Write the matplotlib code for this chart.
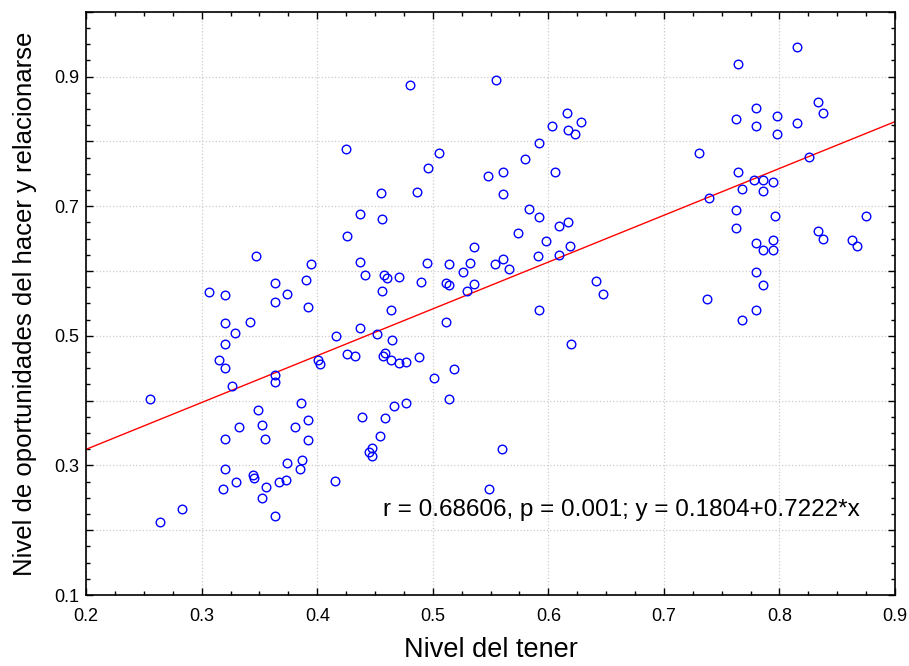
import numpy as np
import matplotlib
matplotlib.use("Agg")
import matplotlib.pyplot as plt
from matplotlib.ticker import MultipleLocator, FuncFormatter

plt.rcParams['font.family'] = ['Liberation Sans', 'DejaVu Sans']

#########################
# DATA
#########################
tener = [
    0.425, 0.437, 0.426, 0.347, 0.395, 0.437, 0.306, 0.320, 0.363, 0.374,
    0.390, 0.363, 0.392, 0.320, 0.342, 0.329, 0.320, 0.315, 0.320, 0.326,
    0.363, 0.363, 0.416, 0.401, 0.402, 0.426, 0.433, 0.437, 0.255, 0.349,
    0.386, 0.352, 0.392, 0.332, 0.381, 0.320, 0.355, 0.392, 0.439, 0.320,
    0.374, 0.387, 0.385, 0.344, 0.345, 0.330, 0.318, 0.356, 0.367, 0.373,
    0.415, 0.352, 0.283, 0.264, 0.363,
    0.480, 0.555, 0.505, 0.496, 0.455, 0.486, 0.456, 0.495, 0.514, 0.532,
    0.536, 0.526, 0.554, 0.561, 0.566, 0.441, 0.458, 0.460, 0.471, 0.490,
    0.511, 0.514, 0.536, 0.530, 0.456, 0.464, 0.548, 0.561, 0.561, 0.574,
    0.583, 0.592, 0.580, 0.592, 0.603, 0.616, 0.628, 0.617, 0.623, 0.606,
    0.598, 0.609, 0.617, 0.619, 0.591, 0.609, 0.641, 0.647, 0.592,
    0.511, 0.452, 0.465, 0.457, 0.459, 0.464, 0.471, 0.477, 0.488, 0.501,
    0.518, 0.620, 0.459, 0.466, 0.477, 0.514, 0.454, 0.447, 0.445, 0.447,
    0.560, 0.549,
    0.815, 0.764, 0.833, 0.838, 0.780, 0.762, 0.798, 0.815, 0.780, 0.798,
    0.730, 0.826, 0.764, 0.778, 0.786, 0.794, 0.768, 0.786, 0.739, 0.762,
    0.796, 0.875, 0.762, 0.833, 0.838, 0.863, 0.867, 0.780, 0.794, 0.786,
    0.794, 0.780, 0.786, 0.737, 0.768, 0.780,
]
hacer = [
    0.788, 0.688, 0.654, 0.623, 0.610, 0.614, 0.568, 0.563, 0.581, 0.565,
    0.586, 0.552, 0.545, 0.519, 0.521, 0.505, 0.487, 0.463, 0.451, 0.423,
    0.439, 0.428, 0.499, 0.462, 0.456, 0.472, 0.469, 0.512, 0.403, 0.386,
    0.396, 0.363, 0.370, 0.359, 0.359, 0.340, 0.341, 0.339, 0.375, 0.294,
    0.303, 0.309, 0.294, 0.285, 0.280, 0.274, 0.263, 0.266, 0.274, 0.278,
    0.276, 0.250, 0.233, 0.212, 0.222,
    0.887, 0.895, 0.782, 0.759, 0.721, 0.722, 0.680, 0.613, 0.611, 0.613,
    0.637, 0.599, 0.610, 0.618, 0.603, 0.593, 0.593, 0.589, 0.591, 0.583,
    0.582, 0.578, 0.580, 0.569, 0.569, 0.540, 0.747, 0.752, 0.718, 0.658,
    0.695, 0.684, 0.773, 0.797, 0.823, 0.843, 0.830, 0.817, 0.811, 0.753,
    0.646, 0.669, 0.675, 0.639, 0.623, 0.625, 0.584, 0.565, 0.540,
    0.522, 0.502, 0.493, 0.469, 0.473, 0.463, 0.458, 0.459, 0.467, 0.435,
    0.448, 0.487, 0.373, 0.391, 0.396, 0.402, 0.346, 0.327, 0.320, 0.315,
    0.325, 0.264,
    0.946, 0.920, 0.861, 0.844, 0.851, 0.835, 0.839, 0.829, 0.823, 0.811,
    0.782, 0.776, 0.752, 0.740, 0.740, 0.737, 0.727, 0.724, 0.712, 0.694,
    0.685, 0.685, 0.667, 0.662, 0.649, 0.648, 0.638, 0.643, 0.648, 0.633,
    0.633, 0.599, 0.579, 0.557, 0.524, 0.539,
]
intercept = 0.1804
slope = 0.7222
stats_text = "r = 0.68606, p = 0.001; y = 0.1804+0.7222*x"

#########################
# PLOT
#########################
fig = plt.figure(figsize=(9.09, 6.66), dpi=100)
ax = fig.add_axes([0.0948, 0.1066, 0.8898, 0.8758])

xline = np.array([0.2, 0.9])
ax.plot(xline, intercept + slope * xline, color='red', linewidth=1.0, zorder=2)
ax.plot(tener, hacer, linestyle='none', marker='o', markersize=6.2,
        markerfacecolor='none', markeredgecolor='blue', markeredgewidth=1.0, zorder=3)

ax.set_xlim(0.2, 0.9)
ax.set_ylim(0.1, 1.0)
ax.xaxis.set_major_locator(MultipleLocator(0.1))
ax.xaxis.set_minor_locator(MultipleLocator(0.025))
ax.yaxis.set_major_locator(MultipleLocator(0.1))
ax.yaxis.set_minor_locator(MultipleLocator(0.025))
ax.xaxis.set_major_formatter(FuncFormatter(lambda v, p: f"{v:.1f}"))
ax.yaxis.set_major_formatter(FuncFormatter(
    lambda v, p: f"{v:.1f}" if round(v * 10) % 2 == 1 and v < 0.95 else ""))

ax.tick_params(which='both', direction='in', top=True, right=True, labelsize=13, width=1)
ax.tick_params(which='major', length=5, pad=5)
ax.tick_params(axis='x', which='major', pad=9)
ax.tick_params(which='minor', length=3)
ax.grid(True, which='major', color='#cccccc', linestyle=':', linewidth=0.9)
ax.set_axisbelow(True)
for s in ax.spines.values():
    s.set_linewidth(1.2)

ax.text(0.457, 0.231, stats_text, fontsize=17.5, va='center', ha='left')
ax.set_xlabel("Nivel del tener", fontsize=19.5, labelpad=9)
ax.set_ylabel("Nivel de oportunidades del hacer y relacionarse", fontsize=18.5, labelpad=12)

fig.savefig("out.png", dpi=100)
